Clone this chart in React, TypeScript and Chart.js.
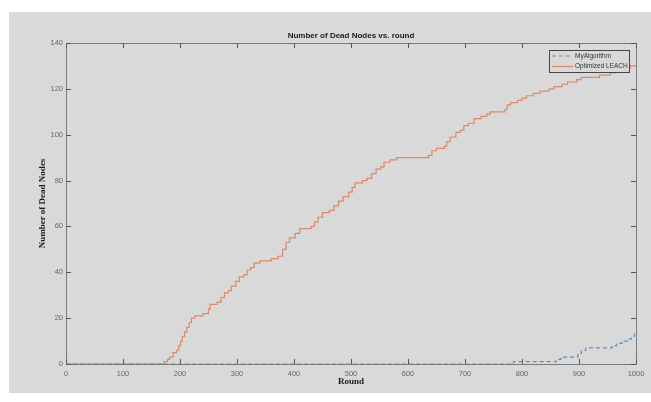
import React, { useEffect, useRef } from "react";
import { Chart, registerables } from "chart.js";
Chart.register(...registerables);

const chartTitle = "Number of Dead Nodes vs. round";
const xTitle = "Round";
const yTitle = "Number of Dead Nodes";
const seriesNames = ["MyAlgorithm", "Optimized LEACH"];

const xTicks = [0, 100, 200, 300, 400, 500, 600, 700, 800, 900, 1000];
const yTicks = [0, 20, 40, 60, 80, 100, 120, 140];

// MyAlgorithm: round at which count changes, and count
const myRounds = [0, 785, 860, 868, 898, 904, 912, 958, 966, 975, 985, 992, 997, 1000];
const myDead = [0, 1, 2, 3, 4, 6, 7, 8, 9, 10, 11, 12, 13, 14];

// Optimized LEACH
const leachRounds = [
  0, 172, 178, 182, 188, 194, 198, 201, 204, 208, 212, 216, 220, 226, 240, 250, 253, 265, 272, 278,
  285, 290, 298, 304, 312, 318, 324, 330, 340, 360, 372, 380, 386, 392, 402, 410, 430, 436, 442, 450,
  462, 470, 478, 486, 496, 502, 507, 520, 528, 536, 544, 552, 558, 568, 580, 636, 642, 650, 664, 668,
  674, 684, 692, 698, 706, 716, 728, 738, 744, 770, 774, 780, 792, 800, 808, 820, 832, 848, 856, 870,
  880, 896, 904, 936, 955, 964, 980, 990, 1000,
];
const leachDead = [
  0, 1, 2, 3, 5, 6, 8, 10, 12, 14, 16, 18, 20, 21, 22, 24, 26, 27, 29, 31,
  32, 34, 36, 38, 39, 41, 42, 44, 45, 46, 47, 50, 53, 55, 57, 59, 60, 62, 64, 66,
  67, 69, 71, 73, 75, 77, 79, 80, 81, 83, 85, 86, 88, 89, 90, 91, 93, 94, 95, 97,
  99, 101, 102, 104, 105, 107, 108, 109, 110, 111, 113, 114, 115, 116, 117, 118, 119, 120, 121, 122,
  123, 124, 125, 126, 127, 128, 129, 130, 130,
];

const BG = "#d9d9d9";
const BLUE = "#5a8ec0";
const ORANGE = "#d98a66";
const BOX = "#7a7a7a";

const decorPlugin = {
  id: "decor",
  beforeDraw(chart: any) {
    const { ctx, width, height } = chart;
    ctx.save();
    ctx.fillStyle = "#ffffff";
    ctx.fillRect(0, 0, width, height);
    ctx.fillStyle = BG;
    ctx.fillRect(9, 12, width - 9, 381);
    ctx.restore();
  },
  beforeDatasetsDraw(chart: any) {
    const { ctx, chartArea: a, scales } = chart;
    ctx.save();
    ctx.strokeStyle = BOX;
    ctx.lineWidth = 1;
    ctx.strokeRect(Math.round(a.left) + 0.5, Math.round(a.top) + 0.5, Math.round(a.right - a.left), Math.round(a.bottom - a.top));
    ctx.strokeStyle = "#555";
    ctx.beginPath();
    const tl = 5;
    xTicks.forEach((v) => {
      const x = Math.round(scales.x.getPixelForValue(v)) + 0.5;
      ctx.moveTo(x, a.bottom);
      ctx.lineTo(x, a.bottom - tl);
      ctx.moveTo(x, a.top);
      ctx.lineTo(x, a.top + tl);
    });
    yTicks.forEach((v) => {
      const y = Math.round(scales.y.getPixelForValue(v)) + 0.5;
      ctx.moveTo(a.left, y);
      ctx.lineTo(a.left + tl, y);
      ctx.moveTo(a.right, y);
      ctx.lineTo(a.right - tl, y);
    });
    ctx.stroke();
    ctx.restore();
  },
  afterDraw(chart: any) {
    const { ctx, chartArea: a } = chart;
    ctx.save();
    ctx.fillStyle = "#1a1a1a";
    ctx.font = "bold 8px 'Liberation Sans', Arial, sans-serif";
    ctx.textAlign = "center";
    ctx.textBaseline = "middle";
    ctx.fillText(chartTitle, (a.left + a.right) / 2, 36);

    // legend
    const lx = 549, ly = 50, lw = 80, lh = 22;
    ctx.fillStyle = BG;
    ctx.fillRect(lx, ly, lw, lh);
    ctx.strokeStyle = "#444";
    ctx.lineWidth = 1;
    ctx.strokeRect(lx + 0.5, ly + 0.5, lw, lh);
    const ds = chart.data.datasets;
    ds.forEach((d: any, i: number) => {
      const y = ly + 6 + i * 10.5;
      ctx.beginPath();
      ctx.strokeStyle = d.borderColor;
      ctx.lineWidth = 1.2;
      ctx.setLineDash(d.borderDash || []);
      ctx.moveTo(lx + 3, y);
      ctx.lineTo(lx + 24, y);
      ctx.stroke();
      ctx.setLineDash([]);
      ctx.fillStyle = "#333";
      ctx.font = "6.5px 'Liberation Sans', Arial, sans-serif";
      ctx.textAlign = "left";
      ctx.textBaseline = "middle";
      ctx.fillText(d.label, lx + 26, y);
    });
    ctx.restore();
  },
};

export default function App() {
  const ref = useRef<HTMLCanvasElement | null>(null);
  useEffect(() => {
    if (!ref.current) return;
    const chart = new Chart(ref.current, {
      type: "line",
      data: {
        datasets: [
          {
            label: seriesNames[0],
            data: myRounds.map((r, i) => ({ x: r, y: myDead[i] })),
            borderColor: BLUE,
            borderWidth: 1.2,
            borderDash: [4, 3],
            pointRadius: 0,
            stepped: true,
            fill: false,
          },
          {
            label: seriesNames[1],
            data: leachRounds.map((r, i) => ({ x: r, y: leachDead[i] })),
            borderColor: ORANGE,
            borderWidth: 1.2,
            pointRadius: 0,
            stepped: true,
            fill: false,
          },
        ],
      },
      options: {
        animation: false,
        responsive: false,
        maintainAspectRatio: false,
        events: [],
        layout: { padding: { left: 0, right: 15, top: 43, bottom: 0 } },
        plugins: { legend: { display: false }, title: { display: false }, tooltip: { enabled: false } },
        scales: {
          x: {
            type: "linear",
            min: 0,
            max: 1000,
            grid: { display: false, drawTicks: false },
            border: { display: false },
            afterBuildTicks: (s: any) => {
              s.ticks = xTicks.map((v) => ({ value: v }));
            },
            afterFit: (s: any) => {
              s.height = 38;
            },
            ticks: {
              padding: 5,
              color: "#666",
              font: { size: 7.5, family: "'Liberation Sans', Arial, sans-serif" },
              maxRotation: 0,
              autoSkip: false,
              callback: (v: any) => String(v),
            },
            title: {
              display: true,
              text: xTitle,
              color: "#1a1a1a",
              font: { size: 9, weight: "bold", family: "'Liberation Serif', 'Times New Roman', serif" },
              padding: { top: 0, bottom: 15 },
            },
          },
          y: {
            type: "linear",
            min: 0,
            max: 140,
            grid: { display: false, drawTicks: false },
            border: { display: false },
            afterBuildTicks: (s: any) => {
              s.ticks = yTicks.map((v) => ({ value: v }));
            },
            afterFit: (s: any) => {
              s.width = 66;
            },
            ticks: {
              padding: 3,
              color: "#666",
              font: { size: 7.5, family: "'Liberation Sans', Arial, sans-serif" },
              autoSkip: false,
              callback: (v: any) => String(v),
            },
            title: {
              display: true,
              text: yTitle,
              color: "#1a1a1a",
              font: { size: 9, weight: "bold", family: "'Liberation Serif', 'Times New Roman', serif" },
              padding: { top: 37.6, bottom: 0 },
            },
          },
        },
      },
      plugins: [decorPlugin],
    } as any);
    return () => chart.destroy();
  }, []);
  return (
    <div style={{ position: "absolute", left: 0, top: 0, width: 651, height: 402 }}>
      <canvas ref={ref} width={651} height={402} style={{ width: 651, height: 402, display: "block" }} />
    </div>
  );
}
